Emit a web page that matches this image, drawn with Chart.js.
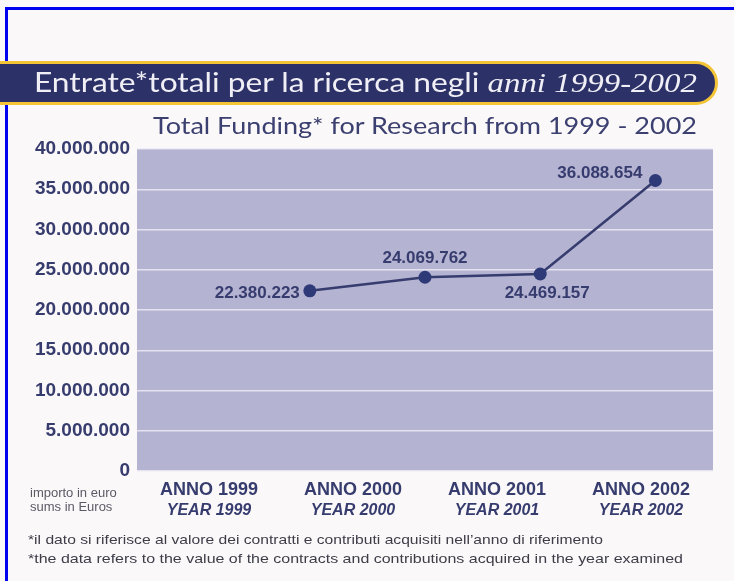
<!DOCTYPE html>
<html>
<head>
<meta charset="utf-8">
<script src="https://cdn.jsdelivr.net/npm/chart.js@4"></script>
<style>
  html, body { margin: 0; padding: 0; background: #fbf8f9; }
  #wrap { position: relative; width: 734px; height: 581px; overflow: hidden; }
  #chart { position: absolute; left: 0; top: 0; }
  .abs { position: absolute; white-space: nowrap; }
  #borderTop { left: 5px; top: 7px; width: 740px; height: 3px; background: #0000f0; }
  #borderLeft { left: 5px; top: 7px; width: 3px; height: 600px; background: #0000f0; }
  #banner { left: -30px; top: 61px; width: 742px; height: 38px; background: #2c3268;
            border: 3px solid #f3c436; border-radius: 0 23px 23px 0; }
  #bannerText { left: 34px; top: 66px; color: #f1eff6; font-family: Lato, "Open Sans", sans-serif; font-size: 26px; }
  #bannerText i { font-family: "Liberation Serif", "DejaVu Serif", serif; font-size: 27px; }
  #subtitle { left: 153px; top: 111px; color: #3b4070; font-family: Lato, "Open Sans", sans-serif; font-size: 23px; }
  .unit { left: 30px; color: #5a5a66; font-family: "Liberation Sans Narrow", "Liberation Sans", sans-serif; font-size: 13px; }
  .note { left: 28px; color: #3d3d48; font-family: "Liberation Sans", Arial, sans-serif; font-size: 13.5px; }
</style>
</head>
<body>
<div id="wrap">
  <canvas id="chart" width="734" height="581"></canvas>
  <div class="abs" id="borderTop"></div>
  <div class="abs" id="borderLeft"></div>
  <div class="abs" id="banner"></div>
  <div class="abs" id="bannerText" data-w="663">Entrate*totali per la ricerca negli <i>anni 1999-2002</i></div>
  <div class="abs" id="subtitle" data-w="544">Total Funding* for Research from 1999 - 2002</div>
  <div class="abs unit" style="top:485px">importo in euro</div>
  <div class="abs unit" style="top:499px">sums in Euros</div>
  <div class="abs note" style="top:532px" data-w="575">*il dato si riferisce al valore dei contratti e contributi acquisiti nell’anno di riferimento</div>
  <div class="abs note" style="top:551px" data-w="655">*the data refers to the value of the contracts and contributions acquired in the year examined</div>
</div>
<script>
// data
const years = [1999, 2000, 2001, 2002];
const annoLabels = ["ANNO 1999", "ANNO 2000", "ANNO 2001", "ANNO 2002"];
const yearLabels = ["YEAR 1999", "YEAR 2000", "YEAR 2001", "YEAR 2002"];
const funding = [22380223, 24069762, 24469157, 36088654];

const navy = "#363c6e";
const numFont = "'Liberation Sans', Arial, sans-serif";

// stretch text blocks to the width they have in the picture
document.querySelectorAll("[data-w]").forEach(el => {
    let w = el.getBoundingClientRect().width;
    let target = parseFloat(el.dataset.w);
    el.style.transformOrigin = "0 0";
    el.style.transform = "scaleX(" + (target / w) + ")";
});

function fmt(v) {
    return String(Math.round(v)).replace(/\B(?=(\d{3})+(?!\d))/g, ".");
}

const plotBg = {
    id: "plotBg",
    beforeDraw(chart) {
        let a = chart.chartArea, ctx = chart.ctx;
        ctx.save();
        ctx.fillStyle = "#b5b3d2";
        ctx.fillRect(a.left, a.top, a.right - a.left, a.bottom - a.top);
        ctx.restore();
    }
};

// value labels next to each point
const valueLabels = {
    id: "valueLabels",
    afterDatasetsDraw(chart) {
        let ctx = chart.ctx;
        let pts = chart.getDatasetMeta(0).data;
        ctx.save();
        ctx.font = "bold 17px " + numFont;
        ctx.fillStyle = navy;
        ctx.textBaseline = "middle";
        pts.forEach((p, i) => {
            let txt = fmt(funding[i]);
            if (i === 0) { ctx.textAlign = "right"; ctx.fillText(txt, p.x - 10, p.y + 2); }
            else if (i === 1) { ctx.textAlign = "center"; ctx.fillText(txt, p.x, p.y - 19); }
            else if (i === 2) { ctx.textAlign = "center"; ctx.fillText(txt, p.x + 7, p.y + 19); }
            else { ctx.textAlign = "right"; ctx.fillText(txt, p.x - 13, p.y - 7); }
        });
        ctx.restore();
    }
};

new Chart(document.getElementById("chart"), {
    type: "line",
    data: {
        labels: annoLabels,
        datasets: [{
            data: years.map((y, i) => ({ x: y, y: funding[i] })),
            xAxisID: "xPts",
            borderColor: navy,
            borderWidth: 2.5,
            backgroundColor: "#2e3a78",
            pointBackgroundColor: "#2e3a78",
            pointBorderWidth: 0,
            pointRadius: 6.5,
            tension: 0
        }]
    },
    options: {
        responsive: false,
        animation: false,
        devicePixelRatio: 1,
        layout: { padding: { left: 0, right: 21, top: 149, bottom: 56 } },
        plugins: { legend: { display: false }, tooltip: { enabled: false } },
        scales: {
            xPts: {
                type: "linear",
                display: false,
                min: 1997.5,
                max: 2002.5
            },
            x: {
                type: "category",
                labels: annoLabels,
                position: "bottom",
                offset: true,
                grid: { display: false, drawTicks: false },
                border: { display: false },
                ticks: { color: navy, padding: 8, maxRotation: 0, font: { family: numFont, size: 18, weight: "bold" } },
                afterFit(s) { s.height = 30; }
            },
            xYear: {
                type: "category",
                labels: yearLabels,
                position: "bottom",
                offset: true,
                grid: { display: false, drawTicks: false },
                border: { display: false },
                ticks: { color: navy, padding: 0, maxRotation: 0, font: { family: numFont, size: 16, weight: "bold", style: "italic" } },
                afterFit(s) { s.height = 24; }
            },
            y: {
                min: 0,
                max: 40000000,
                grid: { color: "rgba(236,235,245,0.85)", lineWidth: 1.5, drawTicks: false },
                border: { display: false },
                ticks: {
                    stepSize: 5000000,
                    color: navy,
                    padding: 7,
                    font: { family: numFont, size: 19, weight: "bold" },
                    callback: v => fmt(v)
                },
                afterFit(s) { s.width = 137; }
            }
        }
    },
    plugins: [plotBg, valueLabels]
});
</script>
</body>
</html>
